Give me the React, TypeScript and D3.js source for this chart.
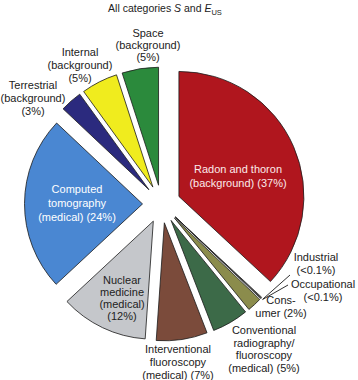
import React, { useEffect, useRef } from 'react';
import * as d3 from 'd3';

// Sources of radiation exposure, share of collective effective dose (%)
const categories = [
  'Radon and thoron', 'Industrial', 'Occupational', 'Consumer',
  'Conventional radiography/fluoroscopy', 'Interventional fluoroscopy',
  'Nuclear medicine', 'Computed tomography', 'Terrestrial', 'Internal', 'Space',
];
const percents = [37, 0.1, 0.1, 2, 5, 7, 12, 24, 3, 5, 5];
const colors = [
  '#b0161e', '#ffffff', '#ffffff', '#8b8c4c', '#3c6a48', '#7b4b3b',
  '#c5c7cb', '#4a87d2', '#2b2a7e', '#f0ec1e', '#2b8a3c',
];
const labelLines = [
  ['Radon and thoron', '(background) (37%)'],
  ['Industrial', '(<0.1%)'],
  ['Occupational', '(<0.1%)'],
  ['Cons-', 'umer (2%)'],
  ['Conventional', 'radiography/', 'fluoroscopy', '(medical) (5%)'],
  ['Interventional', 'fluoroscopy', '(medical) (7%)'],
  ['Nuclear', 'medicine', '(medical)', '(12%)'],
  ['Computed', 'tomography', '(medical) (24%)'],
  ['Terrestrial', '(background)', '(3%)'],
  ['Internal', '(background)', '(5%)'],
  ['Space', '(background)', '(5%)'],
];

// label anchor (centre of first line) and text colour, per slice
const labelPos: [number, number, string][] = [
  [238, 173, '#fbeaea'],
  [316, 261, '#222'],
  [323, 288, '#222'],
  [281, 304, '#222'],
  [264, 334, '#222'],
  [178, 353, '#222'],
  [122, 284, '#222'],
  [77, 193, '#ffffff'],
  [33, 89, '#222'],
  [80, 56, '#222'],
  [148, 37, '#222'],
];

const App = () => {
  const ref = useRef<SVGSVGElement>(null);

  useEffect(() => {
    const width = 358;
    const height = 380;
    const cx = 161.5;
    const cy = 204;
    const radius = 118;
    const pull = 19;

    const svg = d3.select(ref.current);
    svg.selectAll('*').remove();
    svg.attr('width', width).attr('height', height);

    const pie = d3.pie<number>().sort(null).value(d => d);
    const arcs = pie(percents);
    const arc = d3.arc<d3.PieArcDatum<number>>().innerRadius(0);

    const g = svg.append('g').attr('transform', `translate(${cx},${cy})`);

    const offset = (d: d3.PieArcDatum<number>) => {
      const a = (d.startAngle + d.endAngle) / 2;
      return [Math.sin(a) * pull, -Math.cos(a) * pull];
    };
    const outerR = (i: number) => (i === 0 ? 125 : radius);

    g.selectAll('path.slice')
      .data(arcs)
      .enter()
      .append('path')
      .attr('class', 'slice')
      .attr('transform', d => {
        const [ox, oy] = offset(d);
        return `translate(${ox},${oy})`;
      })
      .attr('d', (d, i) => arc.outerRadius(outerR(i))(d) as string)
      .attr('fill', (d, i) => colors[i])
      .attr('stroke', '#1a1a1a')
      .attr('stroke-width', 0.8)
      .attr('stroke-linejoin', 'miter');

    // leader lines for the two tiny slices
    [1, 2].forEach(i => {
      const d = arcs[i];
      const a = (d.startAngle + d.endAngle) / 2;
      const [ox, oy] = offset(d);
      const tx = cx + ox + Math.sin(a) * (radius + 2);
      const ty = cy + oy - Math.cos(a) * (radius + 2);
      const from = i === 1 ? [290, 275] : [288, 285];
      svg.append('line')
        .attr('x1', from[0]).attr('y1', from[1])
        .attr('x2', tx).attr('y2', ty)
        .attr('stroke', '#1a1a1a')
        .attr('stroke-width', 0.9);
    });

    const lh = [13.5, 13, 13, 13, 12.5, 13, 12, 14, 13, 13, 12];
    labelLines.forEach((lines, i) => {
      const [x, y, c] = labelPos[i];
      const t = svg.append('text')
        .attr('x', x)
        .attr('y', y)
        .attr('text-anchor', 'middle')
        .attr('font-family', '"Liberation Sans", Arial, sans-serif')
        .attr('font-size', 11)
        .attr('fill', c);
      lines.forEach((s, j) => {
        t.append('tspan').attr('x', x).attr('y', y + j * lh[i]).text(s);
      });
    });

    const title = svg.append('text')
      .attr('x', 165)
      .attr('y', 12)
      .attr('text-anchor', 'middle')
      .attr('font-family', '"Liberation Sans", Arial, sans-serif')
      .attr('font-size', 10.5)
      .attr('fill', '#222');
    title.append('tspan').text('All categories ');
    title.append('tspan').attr('font-style', 'italic').text('S');
    title.append('tspan').text(' and ');
    title.append('tspan').attr('font-style', 'italic').text('E');
    title.append('tspan').attr('font-size', 7.5).attr('dy', 2.5).text('US');
  }, []);

  return (
    <svg ref={ref} style={{ position: 'absolute', left: 0, top: 0, background: '#fff' }} />
  );
};

export default App;
